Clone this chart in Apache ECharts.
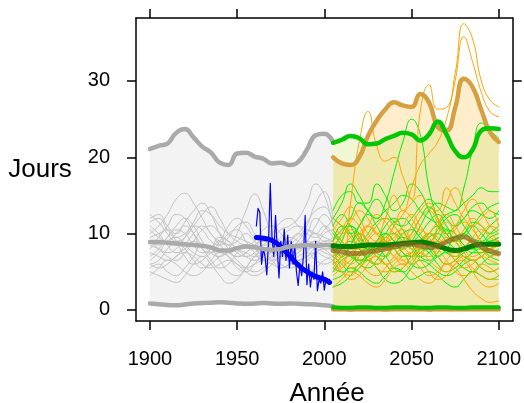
<!DOCTYPE html>
<html><head><meta charset="utf-8">
<script src="https://cdn.jsdelivr.net/npm/echarts@6/dist/echarts.min.js"></script>
<style>html,body{margin:0;padding:0;background:#fff}#c{width:524px;height:403px}</style>
</head><body><div id="c"></div>
<script>
const histYears = [1900,1905,1910,1915,1920,1925,1930,1935,1940,1945,1950,1955,1960,1965,1970,1975,1980,1985,1990,1995,2000,2005];
const futYears = [2005,2010,2015,2020,2025,2030,2035,2040,2045,2050,2055,2060,2065,2070,2075,2080,2085,2090,2095,2100];
const xTicks = [1900,1950,2000,2050,2100];
const yTicks = [0,10,20,30];

const grayMax = [21.1,21.5,21.8,23.2,23.7,22.6,21.4,20.6,19.3,19.0,20.5,20.6,20.1,19.8,19.2,19.3,19.0,19.4,21.0,22.9,23.1,22.0];
const grayMin = [0.85,0.75,0.65,0.6,0.7,0.85,0.9,0.95,1.0,0.95,0.85,0.8,0.85,0.9,0.85,0.8,0.85,0.8,0.75,0.7,0.6,0.5];
const grayMean = [8.9,8.9,8.8,8.7,8.6,8.5,8.4,8.2,7.8,7.8,8.1,8.3,8.2,8.0,7.9,8.0,8.3,8.4,8.5,8.4,8.5,8.5];

const grayRuns = [
 [10,11,12.5,14.5,15.3,14,12,10,9,8.5,9,10,9,8,7.5,8,9,10,9,8,9,9],
 [12,12.5,11,10,11.5,13,14,12.5,10,8,7,7.5,8.5,9,8,7,7.5,8,9,8.5,8,8],
 [7,8,9.5,11,12,11,9,7.5,7,8,10,13,15.2,13,9.5,7,6.5,7.5,9,10,9.5,9],
 [5,4.5,4,3.6,4.5,6,7,6,4.5,3.5,4,5.5,7,8,7,6,5.5,6,7.5,9,8,7],
 [9,8,7,6.5,7.5,9,10.5,11,10,9,8,7.5,7,7.5,9,10.5,11,12,14,16.5,15,11],
 [11,10,8.5,7.5,8,9,8,6.5,5.5,6,7.5,8.5,8,7,6.5,7,8,9,11,14,15.5,12],
 [8,9.5,11,12.5,12,10,8,7.5,8.5,10,10.5,9,7.5,6.5,7,8.5,9.5,9,8,8.5,10,10.5],
 [6,6.5,8,9,8,6.5,5.5,6,7,7.5,6.5,5.5,5,5.5,6.5,7.5,7,6,6.5,7.5,8,8],
 [12.5,11.5,10,9,9.5,11,12.5,13.5,12,10,9,8.5,9,10.5,11,10,8.5,8,9,11,12.5,11],
 [7.5,7,6.5,7,8.5,10,11,10,8.5,7.5,7,7.5,8.5,9,8.5,8,8.5,9.5,10.5,10,9,9.5],
 [4.5,5.5,6.5,6,5,4.5,5,6.5,7.5,7,6,5,4.5,5,6,7,6.5,5.5,5,5.5,6.5,7],
 [10.5,9.5,9,10,11,10,8.5,8,9,11,12,11,9.5,9,10,11.5,12,11,10,9.5,10.5,12],
 [6.5,7.5,9,9.5,8.5,7.5,7,8,9.5,9,8,7,6.5,7,8,8.5,7.5,6.5,7,8,7.5,7],
 [9.5,10,10.5,9,7,6,6.5,7.5,8,7,5.5,5,6,7.5,8,7.5,7,7.5,8.5,9,8.5,8],
 [8.5,8,7.5,8,9.5,11.5,13,12.5,11,10,9.5,9,8.5,8,7.5,8,9,10,11.5,13,13.5,11],
 [5.5,6,5,4.5,5.5,7,8.5,8,6.5,5,4.5,5.5,7,7.5,6.5,5.5,6,7,7.5,6.5,6,6.5],
 [9,8.5,9.5,10.5,10,8.5,7.5,8,9,8.5,7.5,7,7.5,8.5,9.5,9,8,8.5,10,12,11,9.5],
 [6,5.5,6,7,7.5,7,6,5.5,6,6.5,6,5.5,6,6.5,6,5.5,6,6.5,7,7.5,7,6.5],
 [11.5,12,10.5,9.5,10,11,10.5,9,8.5,9.5,11,11.5,10,8.5,8.5,9.5,10.5,11,10.5,10,11,10]
];

const obsStart = 1961;
const obsValues = [11,13.3,12.8,6,8,7,4.6,9,16.6,9.5,7,12.4,8,4.2,9,7,10.6,6.5,9.8,5.5,9,6,8.5,5,3.2,6,4.5,7,12.4,3.3,6,3,5,4,9,2.5,4,3.5,5,2.6,4.2,3.5,4];
const obsSmoothYears = [1961,1965,1970,1975,1980,1985,1990,1995,2000,2003];
const obsSmooth = [9.5,9.4,9.1,8.3,7.1,5.9,5.0,4.4,4.0,3.6];

const greenMax = [21.9,22.3,22.8,22.5,21.7,21.8,22.4,22.8,23.2,23.0,22.2,23.0,24.7,23.0,20.8,20.0,21.0,23.5,23.8,23.7];
const greenMin = [0.35,0.3,0.3,0.35,0.35,0.3,0.3,0.35,0.35,0.35,0.3,0.3,0.35,0.35,0.3,0.3,0.35,0.35,0.35,0.35];
const greenMean = [8.4,8.3,8.3,8.4,8.5,8.5,8.5,8.6,8.7,8.8,8.9,8.7,8.4,8.0,7.8,8.0,8.4,8.6,8.6,8.6];
const orangeMax = [20.0,19.2,19.0,20.0,22.8,24.8,26.3,27.2,26.8,26.6,28.3,27.2,24.0,23.5,26.5,30.3,29.2,26.2,23.3,22.0];
const orangeMin = [0.1,0.1,0.05,0.1,0.1,0.1,0.05,0.1,0.1,0.1,0.1,0.05,0.1,0.1,0.1,0.1,0.1,0.1,0.1,0.1];
const orangeMean = [7.8,7.6,7.4,7.4,7.6,7.8,8.0,8.3,8.5,8.6,8.4,8.2,8.4,8.9,9.4,9.6,9.0,8.3,7.7,7.4];

const greenRuns = [
 [8,10,12,14,13,12,14,18,22,25,23,16,12,10,9,10,11,10,9,9.5],
 [7,9,11,10,8,9,10,9,8,9,11,13,14,13.5,13,16,21,24.5,23.5,22.5],
 [12,14,16.5,15,13,12,13,14,15,14.5,13,12,11.5,12.5,13,14,15,16,15.5,15.5],
 [13,15,15.5,14,14,16.5,15,13,14,16.5,15.5,13,11,10,11,12,13,12.5,12,13],
 [9,10.5,11,9.5,8,9,11,12,10.5,9,10,11.5,12.5,11,9.5,10,11.5,11,10,10.5],
 [6,7,8.5,10,9,7.5,7,8.5,10,10.5,9.5,8,7,8,9.5,10,9,8.5,9.5,10],
 [10,8.5,7,6.5,7.5,9,10,9,7.5,7,8,9.5,10,9,8,7,6.5,7,8,8.5],
 [5,6.5,7,6,5.5,6.5,8,8.5,7.5,6,5.5,6,7,7.5,6.5,5.5,5,6,7,7.5],
 [8,7,8.5,11,12.5,11,9,8,8.5,10,12,13.5,12,10,9,9.5,11,12.5,13.5,14],
 [4,4.5,5.5,5,4,3.5,4.5,5.5,5,4,4.5,5,4.5,3.5,3,4,5,4.5,4,4.5],
 [11,12.5,11,9,8,8.5,10,11.5,12,11,9.5,9,10.5,12,12.5,11,9.5,9,10,11],
 [7,6,5,5.5,7,8,7,5.5,5,6,7.5,8,7,6,6.5,7.5,8,7,6,6],
 [9,11,10,8,7,8,9.5,10,9,8,7,7.5,9,10.5,10,8.5,8,8.5,9,9.5],
 [3,3.5,4.5,6,6.5,5.5,4,3.5,4,5.5,6.5,6,5,4.5,5,6,6.5,5.5,5,5.5],
 [6.5,8,9,8,6.5,6,7,8.5,9.5,8.5,7,6.5,7.5,9,9.5,8.5,7.5,7.5,8.5,9],
 [10.5,9,8,8.5,10,11.5,12,11,9.5,8.5,9,10,11,10.5,9,8,8.5,9.5,11,12],
 [5.5,5,6,7.5,8,7,6,5,5.5,7,8,7.5,6,5,5.5,6.5,7.5,8,7,6.5],
 [12,11,10,11,13,14.5,13,11.5,11,12,13.5,14.5,13.5,12,11,12,13.5,14,13,12.5],
 [7.5,8.5,7.5,6.5,7,8.5,9,8,7,7.5,9,10,9,7.5,7,8,9,8,7.5,8]
];

const orangeRuns = [
 [8,5.5,14,22,26,21.5,19.5,20,17.5,14.5,26,29.5,26.3,26.5,31,37.5,35.5,30,27.5,26.6],
 [6,8,7,9,11,10,12,15,13,16,19,20.5,22,25,30,35.8,32.5,28.5,26,25.3],
 [9,10.5,12,11,9,8,9,11,13,12,10,9,11,14,16,14,11,9,8.5,9],
 [5,6,7.5,8,7,6,7,9,10,9,8,8.5,10,11.5,10,8,7,7.5,8,7],
 [10,9,8,9.5,11,12.5,11.5,10,9,10,12,13,11.5,9.5,9,10.5,12,11,9.5,9],
 [7,8,9.5,10,8.5,7,6,6.5,8,9.5,10.5,9,7,6,6.5,8,9,8,7,7.5],
 [3,4,5,4.5,3.5,3,4,5.5,6,5,4,3.5,4.5,6,5.5,4,2.5,1.5,1,1.2],
 [8,7,6,7,9,10,8.5,7,6.5,7.5,9,10,9.5,8,7,8,9.5,10.5,10,9],
 [12,11,9.5,8.5,9.5,11,12,11,9.5,8,8.5,10,11.5,12.5,11,9.5,9,10,11,10.5],
 [6,5,4.5,5.5,6.5,7,6,5,5.5,7,7.5,6.5,5.5,5,6,7,6.5,5.5,5,5.5],
 [9,8,8.5,10,11,10,8.5,8,9,11,13,14,12,10,11,13,14.5,13,11,10],
 [4.5,5.5,6.5,7.5,7,5.5,5,6,7,7.5,6.5,5,4,4.5,6,6.5,5.5,4.5,4,4],
 [10.5,12,13.5,12,10,9,9.5,11,12.5,14,15,13.5,13,16,14,12,11,12,13,11],
 [7.5,6.5,5.5,6,7.5,9,9.5,8,6.5,6,7,8.5,9,8,6.5,5.5,6,7,6.5,6],
 [11,10,11.5,13,12,10,9,9.5,11,12.5,11,9.5,8.5,9,10.5,11.5,10.5,9,8,8.5],
 [5.5,7,8,6.5,5,4.5,5.5,7,8,7,5.5,4.5,5,6.5,7.5,6.5,5,3.5,3,3.5],
 [8.5,9.5,10.5,9.5,8,7.5,8.5,10,10.5,9,7.5,7,8,9.5,9,7.5,6.5,7,8,8.5],
 [6.5,5,4,4.5,6,7.5,8,7,6,6.5,8,9,8,6.5,5,4.5,5,6,5.5,4.5]
];

const FONT = '"Liberation Sans", Arial, Helvetica, sans-serif';
function pairs(xs, ys){ return xs.map((x,i)=>[x, ys[i]]); }
// value first, year second: lets the stack act on the value dimension
function vpairs(xs, ys){ return xs.map((x,i)=>[ys[i], x]); }
function diff(a,b){ return a.map((v,i)=>+(v-b[i]).toFixed(3)); }

const series = [];
function band(xs, lo, hi, color, id){
  series.push({type:'line', stack:id, data:vpairs(xs, lo), encode:{x:1, y:0}, smooth:true, symbol:'none',
    lineStyle:{opacity:0, width:0}, silent:true, z:1});
  series.push({type:'line', stack:id, data:vpairs(xs, diff(hi, lo)), encode:{x:1, y:0}, smooth:true, symbol:'none',
    lineStyle:{opacity:0, width:0}, areaStyle:{color:color, opacity:1}, silent:true, z:1});
}
function line(xs, ys, color, width, z, smooth){
  series.push({type:'line', data:pairs(xs, ys), smooth: smooth===undefined ? true : smooth, symbol:'none',
    lineStyle:{color:color, width:width, cap:'round', join:'round'}, silent:true, z:z});
}

band(histYears, grayMin, grayMax, '#f3f3f3', 'g');
band(futYears, orangeMin, orangeMax, 'rgba(255,165,0,0.2)', 'o');
band(futYears, greenMin, greenMax, 'rgba(190,220,80,0.24)', 'v');

grayRuns.forEach(r => line(histYears, r, '#c2c2c2', 1, 2));
greenRuns.forEach(r => line(futYears, r, '#00f000', 1, 2));
orangeRuns.forEach(r => line(futYears, r, '#ffa500', 1, 2));

line(obsValues.map((v,i)=>obsStart+i), obsValues, '#0000ff', 1.2, 3, false);
line(obsSmoothYears, obsSmooth, '#0000ff', 5, 4);

line(histYears, grayMax, '#aaaaaa', 4.5, 4);
line(histYears, grayMean, '#aaaaaa', 4.5, 4);
line(histYears, grayMin, '#aaaaaa', 4.5, 4);

line(futYears, orangeMax, 'rgb(214,160,64)', 4.5, 4);
line(futYears, greenMax, '#00c800', 4.5, 5);
line(futYears, orangeMin, 'rgb(205,150,55)', 4.5, 4);
line(futYears, greenMin, '#00c000', 4, 5);
line(futYears, greenMean, '#008000', 5, 5);
line(futYears, orangeMean, 'rgba(140,100,30,0.7)', 5, 5);

const axisLineStyle = {color:'#000', width:1.5};
const tickCommon = {show:true, inside:false, length:9, lineStyle:{color:'#000', width:1.5}};
const plain = v => String(v);

const option = {
  animation:false,
  backgroundColor:'#fff',
  grid:{left:136, right:10, top:18, bottom:82, containLabel:false},
  xAxis:[
    {type:'value', position:'bottom', min:1892, max:2108,
     axisLine:{show:true, onZero:false, lineStyle:axisLineStyle},
     axisTick:Object.assign({customValues:xTicks}, tickCommon),
     axisLabel:{show:true, customValues:xTicks, formatter:plain, margin:28, fontSize:20, color:'#000', fontFamily:FONT},
     splitLine:{show:false}},
    {type:'value', position:'top', min:1892, max:2108,
     axisLine:{show:true, onZero:false, lineStyle:axisLineStyle},
     axisTick:Object.assign({customValues:xTicks}, tickCommon),
     axisLabel:{show:false},
     splitLine:{show:false}}
  ],
  yAxis:[
    {type:'value', position:'left', min:-1.45, max:38.25,
     axisLine:{show:true, onZero:false, lineStyle:axisLineStyle},
     axisTick:Object.assign({customValues:yTicks}, tickCommon),
     axisLabel:{show:true, customValues:yTicks, formatter:plain, margin:26, fontSize:20, color:'#000', fontFamily:FONT},
     splitLine:{show:false}},
    {type:'value', position:'right', min:-1.45, max:38.25,
     axisLine:{show:true, onZero:false, lineStyle:axisLineStyle},
     axisTick:Object.assign({customValues:yTicks}, tickCommon),
     axisLabel:{show:false},
     splitLine:{show:false}}
  ],
  graphic:[
    {type:'text', x:40, y:170, style:{text:'Jours', font:'26px ' + FONT, fill:'#000', align:'center', verticalAlign:'middle'}},
    {type:'text', x:327, y:394, style:{text:'Année', font:'26px ' + FONT, fill:'#000', align:'center', verticalAlign:'middle'}}
  ],
  series: series
};
const chart = echarts.init(document.getElementById('c'), null, {renderer:'canvas'});
chart.setOption(option);
</script>
</body></html>
